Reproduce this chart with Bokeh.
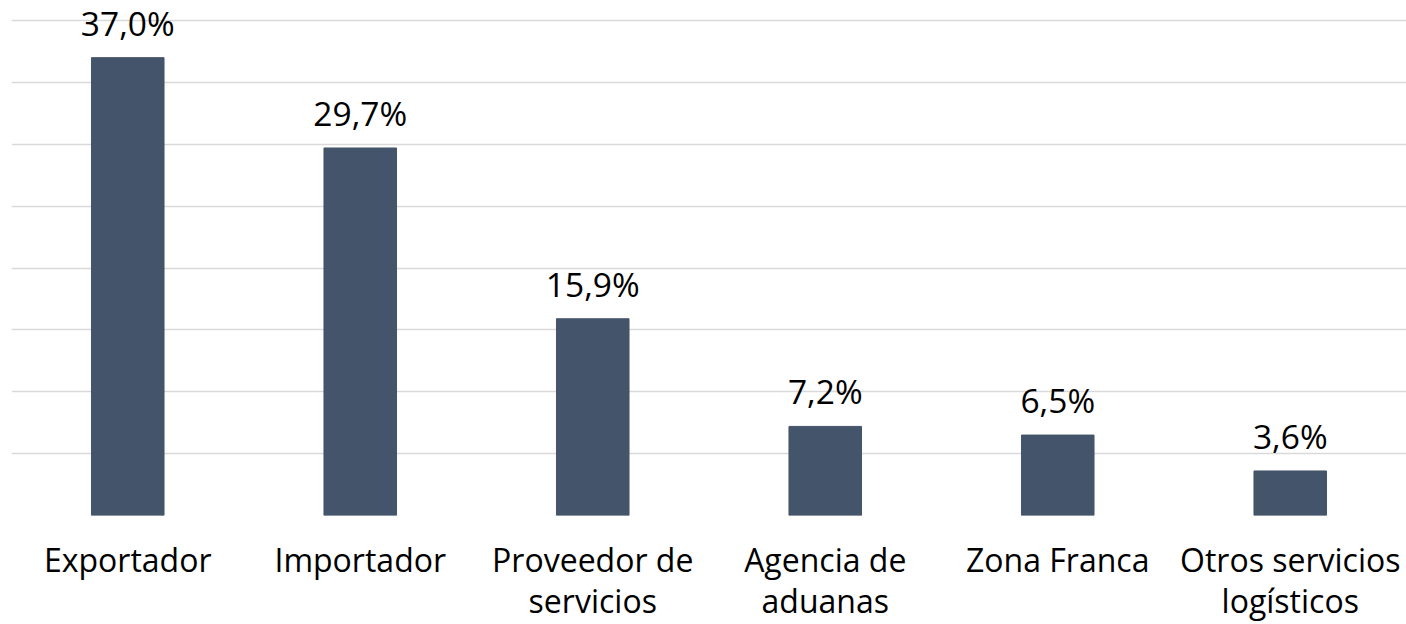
from bokeh.plotting import figure
from bokeh.models import ColumnDataSource, FixedTicker, CategoricalAxis, CustomJSTickFormatter
from bokeh.core.properties import value
from bokeh.embed import file_html
from bokeh.resources import INLINE

categories = ["Exportador", "Importador", "Proveedor de servicios", "Agencia de aduanas",
              "Zona Franca", "Otros servicios logísticos"]
tick_line1 = ["Exportador", "Importador", "Proveedor de", "Agencia de",
              "Zona Franca", "Otros servicios"]
tick_line2 = ["", "", "servicios", "aduanas", "", "logísticos"]
values = [37.0, 29.7, 15.9, 7.2, 6.5, 3.6]
value_labels = ["37,0%", "29,7%", "15,9%", "7,2%", "6,5%", "3,6%"]
grid_ticks = [0, 5, 10, 15, 20, 25, 30, 35, 40]

FONT = "Open Sans"

src = ColumnDataSource(dict(cat=categories, val=values, lab=value_labels))

p = figure(x_range=categories, y_range=(0, 41.62), width=1406, height=624,
           output_backend="svg", toolbar_location=None, x_axis_location=None,
           min_border_left=11, min_border_right=0, min_border_top=0, min_border_bottom=109)
p.outline_line_color = None
p.background_fill_color = "white"
p.border_fill_color = "white"

p.vbar(x="cat", top="val", width=0.312, source=src, color="#44546A")
p.text(x="cat", y="val", text="lab", source=src, text_align="center",
       text_baseline="bottom", y_offset=-12, text_font=value(FONT),
       text_font_size="33.5px", text_color="#000000")

p.yaxis.visible = False
p.ygrid.ticker = FixedTicker(ticks=grid_ticks)
p.ygrid.grid_line_color = "#D9D9D9"
p.ygrid.grid_line_width = 1.5
p.xgrid.grid_line_color = None


def make_axis(labels, standoff):
    ax = CategoricalAxis()
    ax.axis_line_color = None
    ax.major_tick_line_color = None
    ax.minor_tick_line_color = None
    ax.major_tick_out = 0
    ax.major_tick_in = 0
    ax.formatter = CustomJSTickFormatter(args=dict(labels=dict(zip(categories, labels))),
                                         code="return labels[tick];")
    ax.major_label_text_font = FONT
    ax.major_label_text_font_size = "32px"
    ax.major_label_text_color = "#000000"
    ax.major_label_standoff = standoff
    return ax


p.add_layout(make_axis(tick_line1, 22), "below")
p.add_layout(make_axis(tick_line2, -5), "below")

open("out.html", "w").write(file_html(p, INLINE))
